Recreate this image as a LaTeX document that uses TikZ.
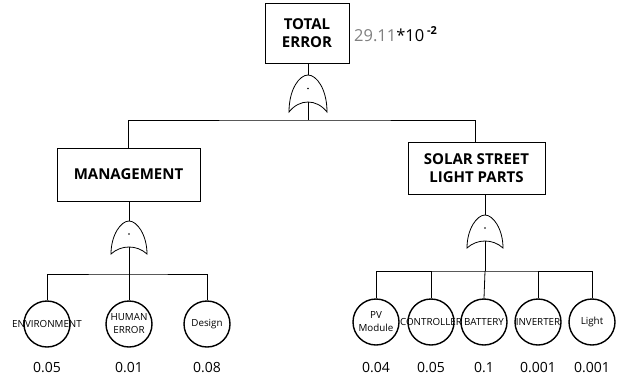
\documentclass[tikz,border=0pt]{standalone}
\usepackage{fontspec}
\setmainfont{Open Sans}
\newcommand\myorgate[6]{% name, x, apex, tip, notch, halfwidth
  \coordinate (#1-in) at (#2,#3);
  \coordinate (#1-out) at (#2,#5);
  \pgfmathsetmacro\gc{(#5-0.25*#4)/0.75}
  \draw[gateline] (#2-#6,#4) .. controls (#2-#6,#3+14) and (#2-0.45*#6,#3) .. (#1-in)
    .. controls (#2+0.45*#6,#3) and (#2+#6,#3+14) .. (#2+#6,#4)
    .. controls (#2+0.45*#6,\gc) and (#2-0.45*#6,\gc) .. cycle;
  \fill (#2,{0.5*(#3+#5)}) circle (0.8);
}
\newcommand\zw[1]{\makebox[0pt]{#1}}
\begin{document}
\begin{tikzpicture}[x=1pt,y=-1pt,
  box/.style={draw, line width=0.8pt, inner sep=0, align=center,
    font=\bfseries\fontsize{15}{18}\selectfont},
  ev/.style={circle, draw, line width=1.4pt, minimum size=46pt, inner sep=0,
    align=center, font=\fontsize{9.8}{13}\selectfont},
  val/.style={font=\fontsize{14}{16}\selectfont},
  wire/.style={line width=0.8pt},
  gateline/.style={line width=0.8pt}]
\useasboundingbox (0,0) rectangle (618,378);

% boxes
\node[box, minimum width=84pt, minimum height=60pt] (top) at (307,33) {TOTAL\\ERROR};
\node[box, minimum width=143pt, minimum height=53pt] (mgmt) at (128.5,174.5) {MANAGEMENT};
\node[box, minimum width=137pt, minimum height=52pt] (solar) at (476.5,168) {SOLAR STREET\\LIGHT PARTS};

\node[anchor=west, inner sep=0, font=\fontsize{16.5}{18}\selectfont] (res) at (354,34)
  {\textcolor[gray]{0.5}{29.11}*10\,\raisebox{0.42em}{\bfseries\fontsize{11}{12}\selectfont -2}};

% gates
\myorgate{g0}{308}{75}{112}{102}{19}
\myorgate{g1}{129}{221}{254}{247}{18}
\myorgate{g2}{485}{215}{248}{241}{18}

% basic events
\node[ev] (e1) at (47,324) {\zw{ENVIRONMENT}};
\node[ev] (e2) at (129,324) {\zw{HUMAN}\\\zw{ERROR}};
\node[ev] (e3) at (207,324) {Design};
\node[ev] (s1) at (376,322) {PV\\Module};
\node[ev] (s2) at (431,322) {\zw{CONTROLLER}};
\node[ev] (s3) at (484,322) {\zw{BATTERY}};
\node[ev] (s4) at (538,322) {\zw{INVERTER}};
\node[ev] (s5) at (592,322) {Light};

\node[val] (v1) at (47,368) {0.05};
\node[val] (v2) at (129,368) {0.01};
\node[val] (v3) at (207,368) {0.08};
\node[val] (w1) at (376,368) {0.04};
\node[val] (w2) at (431,368) {0.05};
\node[val] (w3) at (484,368) {0.1};
\node[val] (w4) at (538,368) {0.001};
\node[val] (w5) at (592,368) {0.001};

% bus coordinates
\coordinate (b0) at (308,120);
\coordinate (b1) at (129,274);
\coordinate (b2) at (485,271);

% connectors
\draw[wire] (top.south -| g0-in) -- (g0-in);
\draw[wire] (g0-out) -- (b0);
\draw[wire] (mgmt.north) |- (b0) -| (solar.north -| 475,0);

\draw[wire] (mgmt.south -| g1-in) -- (g1-in);
\draw[wire] (g1-out) -- (b1);
\draw[wire] (e1.north) |- (b1) -| (e3.north);
\draw[wire] (b1) -- (e2.north);

\draw[wire] (solar.south -| g2-in) -- (g2-in);
\draw[wire] (g2-out) -- (b2);
\draw[wire] (s1.north) |- (b2) -| (s5.north);
\draw[wire] (s2.north) -- (s2.north |- b2);
\draw[wire] (b2) -- (s3.north);
\draw[wire] (s4.north) -- (s4.north |- b2);
\end{tikzpicture}
\end{document}
